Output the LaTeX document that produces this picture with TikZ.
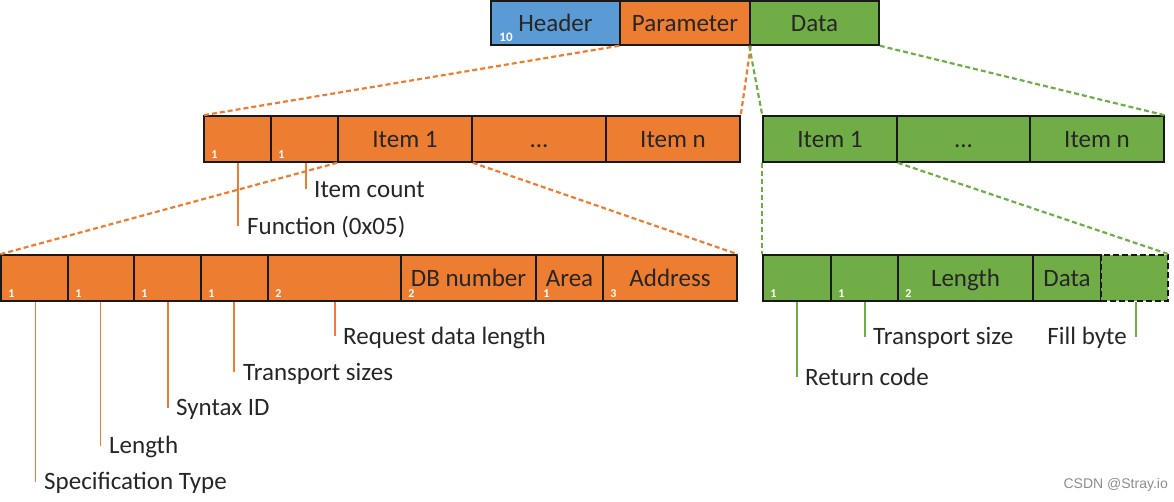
\documentclass[tikz,border=0pt]{standalone}
\usepackage{fontspec}
\setmainfont{Carlito}
\newfontfamily\wmfont{Liberation Sans}
\definecolor{cblue}{HTML}{5B9BD5}
\definecolor{corange}{HTML}{ED7D31}
\definecolor{cgreen}{HTML}{70AD47}
\definecolor{ctext}{HTML}{262626}
\begin{document}
\begin{tikzpicture}[x=1pt,y=-1pt,
  cell/.style={draw=black!90, line width=1.5pt, rectangle, inner sep=0pt,
    text height=16pt, text depth=0pt, text=ctext,
    font=\fontsize{25}{30}\selectfont},
  num/.style={anchor=base west, inner sep=0pt, text=white,
    font=\bfseries\fontsize{12}{12}\selectfont},
  lab/.style={anchor=base west, inner sep=0pt, text=ctext,
    font=\fontsize{25}{30}\selectfont},
  odash/.style={draw=corange, line width=2.2pt, dash pattern=on 5pt off 3pt},
  gdash/.style={draw=cgreen, line width=2.2pt, dash pattern=on 5pt off 3pt},
  olead/.style={draw=corange, line width=1.3pt},
  glead/.style={draw=cgreen, line width=1.3pt}]
\useasboundingbox (0,0) rectangle (1174,501);

% top row
\node[cell, fill=cblue, minimum width=129pt, minimum height=44pt] (hdr) at (555.5,23) {Header};
\node[cell, fill=corange, minimum width=130pt, minimum height=44pt] (par) at (685,23) {Parameter};
\node[cell, fill=cgreen, minimum width=129pt, minimum height=44pt] (dat) at (814.5,23) {Data};

% middle left row
\node[cell, fill=corange, minimum width=67pt, minimum height=46pt] (m1) at (237.5,139) {};
\node[cell, fill=corange, minimum width=67pt, minimum height=46pt] (m2) at (304.5,139) {};
\node[cell, fill=corange, minimum width=134pt, minimum height=46pt] (m3) at (405,139) {Item 1};
\node[cell, fill=corange, minimum width=134pt, minimum height=46pt] (m4) at (539,139) {...};
\node[cell, fill=corange, minimum width=134pt, minimum height=46pt] (m5) at (673,139) {Item n};

% middle right row
\node[cell, fill=cgreen, minimum width=134pt, minimum height=46pt] (r1) at (830,139) {Item 1};
\node[cell, fill=cgreen, minimum width=133pt, minimum height=46pt] (r2) at (963.5,139) {...};
\node[cell, fill=cgreen, minimum width=134pt, minimum height=46pt] (r3) at (1097,139) {Item n};

% bottom left row
\node[cell, fill=corange, minimum width=67pt, minimum height=46pt] (b1) at (34.5,278) {};
\node[cell, fill=corange, minimum width=66pt, minimum height=46pt] (b2) at (101,278) {};
\node[cell, fill=corange, minimum width=67pt, minimum height=46pt] (b3) at (167.5,278) {};
\node[cell, fill=corange, minimum width=67pt, minimum height=46pt] (b4) at (234.5,278) {};
\node[cell, fill=corange, minimum width=133pt, minimum height=46pt] (b5) at (334.5,278) {};
\node[cell, fill=corange, minimum width=135pt, minimum height=46pt] (b6) at (468.5,278) {DB number};
\node[cell, fill=corange, minimum width=67pt, minimum height=46pt] (b7) at (569.5,278) {Area};
\node[cell, fill=corange, minimum width=134pt, minimum height=46pt] (b8) at (670,278) {Address};

% bottom right row
\node[cell, fill=cgreen, minimum width=68pt, minimum height=46pt] (c1) at (797,278) {};
\node[cell, fill=cgreen, minimum width=67pt, minimum height=46pt] (c2) at (864.5,278) {};
\node[cell, fill=cgreen, minimum width=135pt, minimum height=46pt] (c3) at (965.5,278) {Length};
\node[cell, fill=cgreen, minimum width=68pt, minimum height=46pt] (c4) at (1067,278) {Data};
\node[cell, fill=cgreen, minimum width=67pt, minimum height=46pt, dash pattern=on 6pt off 3pt] (c5) at (1134.5,278) {};

% size numbers
\node[num, font=\bfseries\fontsize{13}{13}\selectfont] (nhdr) at ([xshift=9pt,yshift=4.5pt]hdr.south west) {10};
\node[num] (nm1) at ([xshift=8pt,yshift=4pt]m1.south west) {1};
\node[num] (nm2) at ([xshift=8pt,yshift=4pt]m2.south west) {1};
\node[num] (nb1) at ([xshift=8pt,yshift=4pt]b1.south west) {1};
\node[num] (nb2) at ([xshift=8pt,yshift=4pt]b2.south west) {1};
\node[num] (nb3) at ([xshift=8pt,yshift=4pt]b3.south west) {1};
\node[num] (nb4) at ([xshift=8pt,yshift=4pt]b4.south west) {1};
\node[num] (nb5) at ([xshift=8pt,yshift=4pt]b5.south west) {2};
\node[num] (nb6) at ([xshift=8pt,yshift=4pt]b6.south west) {2};
\node[num] (nb7) at ([xshift=8pt,yshift=4pt]b7.south west) {1};
\node[num] (nb8) at ([xshift=8pt,yshift=4pt]b8.south west) {3};
\node[num] (nc1) at ([xshift=8pt,yshift=4pt]c1.south west) {1};
\node[num] (nc2) at ([xshift=8pt,yshift=4pt]c2.south west) {1};
\node[num] (nc3) at ([xshift=8pt,yshift=4pt]c3.south west) {2};

% dashed zoom connectors
\draw[odash] (par.south west) -- (m1.north west);
\draw[odash] (par.south east) -- (m5.north east);
\draw[gdash] (dat.south west) -- (r1.north west);
\draw[gdash] (dat.south east) -- (r3.north east);
\draw[odash] (m3.south west) -- (b1.north west);
\draw[odash] (m3.south east) -- (b8.north east);
\draw[gdash] (r1.south west) -- (c1.north west);
\draw[gdash] (r1.south east) -- (c5.north east);

% leader labels, middle
\coordinate (kf) at (238,226);
\node[lab] (lf) at (247,234) {Function (0x05)};
\draw[olead] (kf |- m1.south) -- (kf);
\coordinate (ki) at (306,189);
\node[lab] (li) at (314,197.5) {Item count};
\draw[olead] (ki |- m2.south) -- (ki);

% leader labels, bottom left
\coordinate (ks) at (35.5,481.5);
\node[lab] (ls) at (44,489) {Specification Type};
\draw[olead] (ks |- b1.south) -- (ks);
\coordinate (kl) at (100.5,445.5);
\node[lab] (ll) at (109,453) {Length};
\draw[olead] (kl |- b2.south) -- (kl);
\coordinate (ky) at (168,408);
\node[lab] (ly) at (176,415.5) {Syntax ID};
\draw[olead] (ky |- b3.south) -- (ky);
\coordinate (kt) at (234,372);
\node[lab] (lt) at (243,380) {Transport sizes};
\draw[olead] (kt |- b4.south) -- (kt);
\coordinate (kr) at (335,336);
\node[lab] (lr) at (343,344) {Request data length};
\draw[olead] (kr |- b5.south) -- (kr);

% leader labels, bottom right
\coordinate (kc) at (797,377);
\node[lab] (lc) at (805,385) {Return code};
\draw[glead] (kc |- c1.south) -- (kc);
\coordinate (kz) at (865,337);
\node[lab] (lz) at (873,344.5) {Transport size};
\draw[glead] (kz |- c2.south) -- (kz);
\coordinate (kb) at (1136,337);
\node[lab, anchor=base east] (lb) at (1127,344.5) {Fill byte};
\draw[glead] (kb |- c5.south) -- (kb);

% watermark
\node[anchor=base east, inner sep=0pt, text=black!45, font=\wmfont\fontsize{14}{14}\selectfont] (wm) at (1168,488) {CSDN @Stray.io};
\end{tikzpicture}
\end{document}
